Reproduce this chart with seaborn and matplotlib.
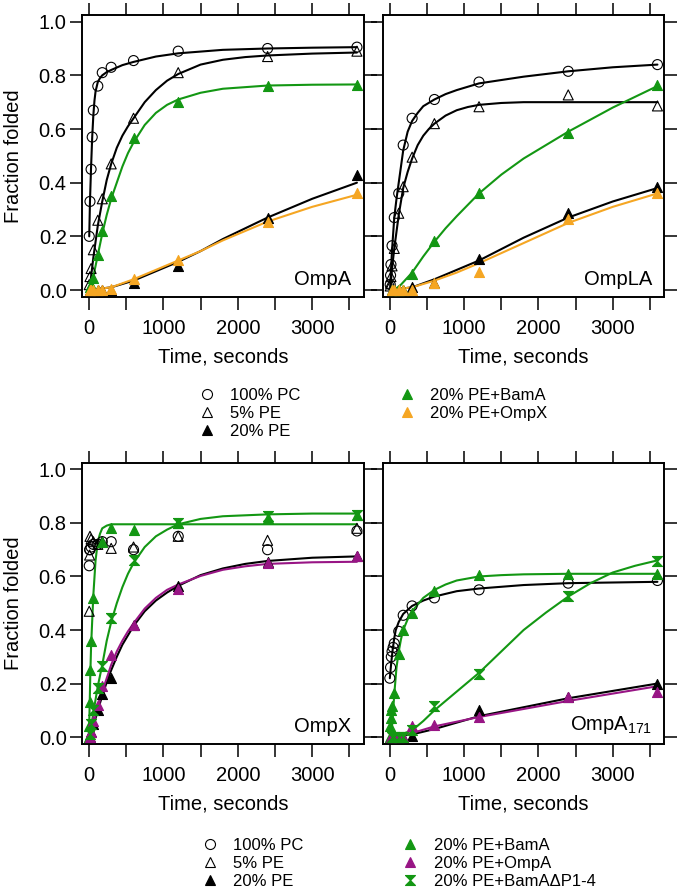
import matplotlib
matplotlib.use("Agg")
import matplotlib.pyplot as plt
from matplotlib.lines import Line2D
from matplotlib.ticker import MultipleLocator, FormatStrFormatter
import pandas as pd
import seaborn as sns

GREEN = "#139713"
ORANGE = "#f5a623"
PURPLE = "#981585"
HOURGLASS = [(-1, 1), (1, 1), (-1, -1), (1, -1), (-1, 1)]

PANELS = ["OmpA", "OmpLA", "OmpX", r"OmpA$_{\mathrm{171}}$"]

# ---- OmpA (top left) ----
OMPA_PC_T = [5, 15, 30, 45, 60, 120, 180, 300, 600, 1200, 2400, 3600]
OMPA_PC_Y = [0.20, 0.33, 0.45, 0.57, 0.67, 0.76, 0.81, 0.83, 0.855, 0.89, 0.90, 0.905]
OMPA_PC_FIT_T = [5, 15, 30, 45, 60, 75, 90, 120, 150, 180, 240, 300, 450, 600, 900, 1200, 1800, 2400, 3000, 3600]
OMPA_PC_FIT_Y = [0.20, 0.33, 0.46, 0.57, 0.65, 0.705, 0.74, 0.775, 0.79, 0.80, 0.812, 0.82, 0.838, 0.85, 0.87, 0.882, 0.895, 0.90, 0.903, 0.905]
OMPA_PE5_T = [5, 15, 30, 60, 120, 180, 300, 600, 1200, 2400, 3600]
OMPA_PE5_Y = [0.02, 0.05, 0.08, 0.15, 0.26, 0.34, 0.47, 0.64, 0.81, 0.87, 0.89]
OMPA_PE5_FIT_T = [10, 30, 60, 120, 180, 240, 300, 375, 450, 525, 600, 750, 900, 1050, 1200, 1500, 1800, 2100, 2400, 3000, 3600]
OMPA_PE5_FIT_Y = [0.0, 0.05, 0.12, 0.24, 0.33, 0.41, 0.47, 0.53, 0.575, 0.61, 0.64, 0.70, 0.745, 0.78, 0.805, 0.84, 0.858, 0.868, 0.874, 0.881, 0.885]
OMPA_PE20_T = [15, 30, 60, 120, 180, 300, 600, 1200, 2400, 3600]
OMPA_PE20_Y = [0.0, 0.0, 0.0, 0.0, 0.0, 0.0, 0.025, 0.09, 0.27, 0.43]
OMPA_PE20_FIT_T = [0, 300, 600, 900, 1200, 1500, 1800, 2100, 2400, 3000, 3600]
OMPA_PE20_FIT_Y = [0.0, 0.01, 0.035, 0.07, 0.105, 0.145, 0.19, 0.23, 0.27, 0.34, 0.40]
OMPA_BAMA_T = [15, 30, 60, 120, 180, 300, 600, 1200, 2400, 3600]
OMPA_BAMA_Y = [0.01, 0.02, 0.045, 0.13, 0.22, 0.35, 0.565, 0.70, 0.76, 0.765]
OMPA_BAMA_FIT_T = [20, 60, 120, 180, 240, 300, 375, 450, 525, 600, 750, 900, 1050, 1200, 1500, 1800, 2400, 3000, 3600]
OMPA_BAMA_FIT_Y = [0.0, 0.05, 0.13, 0.21, 0.28, 0.34, 0.40, 0.46, 0.51, 0.55, 0.615, 0.66, 0.69, 0.71, 0.735, 0.75, 0.762, 0.765, 0.766]
OMPA_OMPX_T = [15, 30, 60, 120, 180, 300, 600, 1200, 2400, 3600]
OMPA_OMPX_Y = [0.0, 0.0, 0.0, 0.0, 0.0, 0.005, 0.04, 0.11, 0.255, 0.36]
OMPA_OMPX_FIT_T = [0, 300, 600, 900, 1200, 1500, 1800, 2100, 2400, 3000, 3600]
OMPA_OMPX_FIT_Y = [0.0, 0.01, 0.04, 0.075, 0.11, 0.145, 0.185, 0.22, 0.255, 0.31, 0.355]

# ---- OmpLA (top right) ----
OMPLA_PC_T = [5, 10, 15, 30, 60, 120, 180, 300, 600, 1200, 2400, 3600]
OMPLA_PC_Y = [0.02, 0.055, 0.095, 0.165, 0.27, 0.36, 0.54, 0.64, 0.71, 0.775, 0.815, 0.84]
OMPLA_PC_FIT_T = [5, 15, 30, 60, 90, 120, 150, 180, 240, 300, 375, 450, 600, 750, 900, 1200, 1800, 2400, 3000, 3600]
OMPLA_PC_FIT_Y = [0.0, 0.07, 0.15, 0.27, 0.34, 0.40, 0.46, 0.52, 0.59, 0.63, 0.66, 0.685, 0.71, 0.73, 0.745, 0.77, 0.795, 0.815, 0.83, 0.84]
OMPLA_PE5_T = [5, 10, 15, 30, 60, 120, 180, 300, 600, 1200, 2400, 3600]
OMPLA_PE5_Y = [0.015, 0.025, 0.05, 0.09, 0.155, 0.286, 0.385, 0.495, 0.62, 0.683, 0.727, 0.686]
OMPLA_PE5_FIT_T = [5, 30, 60, 120, 180, 240, 300, 375, 450, 525, 600, 750, 900, 1050, 1200, 1500, 1800, 2400, 3600]
OMPLA_PE5_FIT_Y = [0.0, 0.08, 0.155, 0.28, 0.38, 0.44, 0.49, 0.54, 0.575, 0.60, 0.62, 0.65, 0.67, 0.682, 0.69, 0.697, 0.70, 0.70, 0.70]
OMPLA_PE20_T = [30, 60, 120, 180, 300, 600, 1200, 2400, 3600]
OMPLA_PE20_Y = [0.0, 0.0, 0.0, 0.0, 0.01, 0.025, 0.114, 0.286, 0.385]
OMPLA_PE20_FIT_T = [0, 300, 600, 900, 1200, 1800, 2400, 3000, 3600]
OMPLA_PE20_FIT_Y = [0.0, 0.01, 0.04, 0.075, 0.11, 0.195, 0.27, 0.33, 0.38]
OMPLA_BAMA_T = [30, 60, 120, 180, 300, 600, 1200, 2400, 3600]
OMPLA_BAMA_Y = [0.0, 0.0, 0.0, 0.0, 0.06, 0.184, 0.363, 0.584, 0.764]
OMPLA_BAMA_FIT_T = [60, 150, 300, 450, 600, 750, 900, 1200, 1500, 1800, 2100, 2400, 2700, 3000, 3300, 3600]
OMPLA_BAMA_FIT_Y = [0.0, 0.02, 0.065, 0.125, 0.18, 0.23, 0.275, 0.36, 0.43, 0.49, 0.54, 0.59, 0.635, 0.68, 0.72, 0.76]
OMPLA_OMPX_T = [30, 60, 120, 180, 300, 600, 1200, 2400, 3600]
OMPLA_OMPX_Y = [0.0, 0.0, 0.0, 0.0, 0.0, 0.027, 0.068, 0.263, 0.363]
OMPLA_OMPX_FIT_T = [0, 300, 600, 900, 1200, 1800, 2400, 3000, 3600]
OMPLA_OMPX_FIT_Y = [0.0, 0.01, 0.035, 0.065, 0.10, 0.175, 0.25, 0.31, 0.36]

# ---- OmpX (bottom left) ----
OMPX_PC_T = [5, 10, 15, 30, 60, 120, 180, 300, 600, 1200, 2400, 3600]
OMPX_PC_Y = [0.64, 0.70, 0.70, 0.71, 0.72, 0.72, 0.73, 0.73, 0.70, 0.75, 0.70, 0.77]
OMPX_PE5_T = [5, 10, 15, 30, 60, 120, 180, 300, 600, 1200, 2400, 3600]
OMPX_PE5_Y = [0.47, 0.68, 0.75, 0.74, 0.73, 0.72, 0.73, 0.705, 0.71, 0.75, 0.735, 0.78]
OMPX_PE20_T = [10, 30, 60, 120, 180, 300, 600, 1200, 2400, 3600]
OMPX_PE20_Y = [0.0, 0.02, 0.05, 0.10, 0.16, 0.22, 0.42, 0.565, 0.655, 0.675]
OMPX_PE20_FIT_T = [30, 60, 120, 180, 240, 300, 375, 450, 525, 600, 750, 900, 1050, 1200, 1500, 1800, 2100, 2400, 3000, 3600]
OMPX_PE20_FIT_Y = [0.0, 0.04, 0.10, 0.155, 0.205, 0.25, 0.30, 0.345, 0.38, 0.415, 0.47, 0.51, 0.54, 0.565, 0.605, 0.63, 0.647, 0.658, 0.67, 0.675]
OMPX_BAMA_T = [0, 5, 10, 20, 30, 60, 180, 300, 600, 1200, 2400, 3600]
OMPX_BAMA_Y = [0.0, 0.04, 0.13, 0.25, 0.36, 0.52, 0.73, 0.78, 0.775, 0.80, 0.82, 0.83]
OMPX_BAMA_FIT_T = [0, 5, 10, 20, 30, 60, 90, 120, 150, 180, 240, 300, 3600]
OMPX_BAMA_FIT_Y = [0.0, 0.05, 0.11, 0.24, 0.34, 0.53, 0.66, 0.73, 0.76, 0.78, 0.79, 0.795, 0.795]
OMPX_OMPA_T = [10, 30, 60, 120, 180, 300, 600, 1200, 2400, 3600]
OMPX_OMPA_Y = [0.0, 0.02, 0.06, 0.12, 0.19, 0.305, 0.42, 0.555, 0.65, 0.675]
OMPX_OMPA_FIT_T = [30, 60, 120, 180, 240, 300, 375, 450, 525, 600, 750, 900, 1050, 1200, 1500, 1800, 2100, 2400, 3000, 3600]
OMPX_OMPA_FIT_Y = [0.0, 0.05, 0.11, 0.17, 0.22, 0.27, 0.32, 0.36, 0.395, 0.425, 0.48, 0.52, 0.55, 0.57, 0.602, 0.625, 0.638, 0.647, 0.653, 0.655]
OMPX_DP_T = [10, 30, 60, 120, 180, 300, 600, 1200, 2400, 3600]
OMPX_DP_Y = [0.01, 0.05, 0.10, 0.185, 0.265, 0.445, 0.66, 0.80, 0.825, 0.83]
OMPX_DP_FIT_T = [10, 60, 120, 180, 240, 300, 375, 450, 525, 600, 750, 900, 1050, 1200, 1500, 1800, 2400, 3000, 3600]
OMPX_DP_FIT_Y = [0.0, 0.09, 0.19, 0.27, 0.36, 0.43, 0.50, 0.56, 0.61, 0.65, 0.71, 0.75, 0.775, 0.795, 0.815, 0.825, 0.832, 0.835, 0.835]

# ---- OmpA171 (bottom right) ----
OMPA171_PC_T = [0, 10, 20, 30, 45, 60, 120, 180, 300, 600, 1200, 2400, 3600]
OMPA171_PC_Y = [0.22, 0.26, 0.30, 0.32, 0.335, 0.35, 0.395, 0.455, 0.49, 0.52, 0.55, 0.575, 0.585]
OMPA171_PC_FIT_T = [0, 20, 40, 60, 80, 120, 180, 300, 450, 600, 900, 1200, 1800, 2400, 3600]
OMPA171_PC_FIT_Y = [0.22, 0.28, 0.33, 0.37, 0.40, 0.43, 0.46, 0.49, 0.51, 0.525, 0.545, 0.555, 0.568, 0.575, 0.58]
OMPA171_PE20_T = [10, 30, 60, 120, 180, 300, 1200, 2400, 3600]
OMPA171_PE20_Y = [0.0, 0.0, 0.0, 0.0, 0.0, 0.005, 0.10, 0.15, 0.20]
OMPA171_PE20_FIT_T = [0, 300, 600, 1200, 2400, 3600]
OMPA171_PE20_FIT_Y = [0.0, 0.01, 0.03, 0.078, 0.145, 0.20]
OMPA171_BAMA_T = [0, 5, 10, 20, 30, 60, 120, 180, 300, 600, 1200, 2400, 3600]
OMPA171_BAMA_Y = [0.0, 0.04, 0.07, 0.10, 0.115, 0.165, 0.31, 0.40, 0.465, 0.545, 0.605, 0.61, 0.61]
OMPA171_BAMA_FIT_T = [20, 40, 60, 90, 120, 150, 180, 240, 300, 450, 600, 750, 900, 1200, 1500, 1800, 2400, 3600]
OMPA171_BAMA_FIT_Y = [0.0, 0.08, 0.16, 0.26, 0.32, 0.365, 0.40, 0.44, 0.47, 0.52, 0.55, 0.57, 0.585, 0.60, 0.605, 0.608, 0.61, 0.61]
OMPA171_OMPA_T = [10, 30, 60, 120, 180, 300, 600, 1200, 2400, 3600]
OMPA171_OMPA_Y = [0.0, 0.0, 0.0, 0.0, 0.0, 0.04, 0.045, 0.075, 0.15, 0.17]
OMPA171_OMPA_FIT_T = [0, 300, 600, 1200, 2400, 3600]
OMPA171_OMPA_FIT_Y = [0.0, 0.015, 0.04, 0.075, 0.135, 0.19]
OMPA171_DP_T = [30, 60, 120, 180, 300, 600, 1200, 2400, 3600]
OMPA171_DP_Y = [0.0, 0.0, 0.0, 0.0, 0.025, 0.115, 0.234, 0.5275, 0.656]
OMPA171_DP_FIT_T = [50, 300, 450, 600, 900, 1200, 1500, 1800, 2100, 2400, 2700, 3000, 3300, 3600]
OMPA171_DP_FIT_Y = [0.0, 0.025, 0.06, 0.10, 0.17, 0.24, 0.32, 0.40, 0.465, 0.525, 0.575, 0.615, 0.64, 0.66]

PC, PE5, PE20 = "100% PC", "5% PE", "20% PE"
BAMA, OMPX, OMPA, DP = "20% PE+BamA", "20% PE+OmpX", "20% PE+OmpA", "20% PE+BamA\u0394P1-4"

# condition -> (marker, face, edge, line colour)
STYLES = {
    PC: ("o", "none", "black", "black"),
    PE5: ("^", "none", "black", "black"),
    PE20: ("^", "black", "black", "black"),
    BAMA: ("^", GREEN, GREEN, GREEN),
    OMPX: ("^", ORANGE, ORANGE, ORANGE),
    OMPA: ("^", PURPLE, PURPLE, PURPLE),
    DP: (HOURGLASS, GREEN, GREEN, GREEN),
}

SERIES = [
    (0, PC, OMPA_PC_T, OMPA_PC_Y, OMPA_PC_FIT_T, OMPA_PC_FIT_Y),
    (0, PE5, OMPA_PE5_T, OMPA_PE5_Y, OMPA_PE5_FIT_T, OMPA_PE5_FIT_Y),
    (0, PE20, OMPA_PE20_T, OMPA_PE20_Y, OMPA_PE20_FIT_T, OMPA_PE20_FIT_Y),
    (0, BAMA, OMPA_BAMA_T, OMPA_BAMA_Y, OMPA_BAMA_FIT_T, OMPA_BAMA_FIT_Y),
    (0, OMPX, OMPA_OMPX_T, OMPA_OMPX_Y, OMPA_OMPX_FIT_T, OMPA_OMPX_FIT_Y),
    (1, PC, OMPLA_PC_T, OMPLA_PC_Y, OMPLA_PC_FIT_T, OMPLA_PC_FIT_Y),
    (1, PE5, OMPLA_PE5_T, OMPLA_PE5_Y, OMPLA_PE5_FIT_T, OMPLA_PE5_FIT_Y),
    (1, PE20, OMPLA_PE20_T, OMPLA_PE20_Y, OMPLA_PE20_FIT_T, OMPLA_PE20_FIT_Y),
    (1, BAMA, OMPLA_BAMA_T, OMPLA_BAMA_Y, OMPLA_BAMA_FIT_T, OMPLA_BAMA_FIT_Y),
    (1, OMPX, OMPLA_OMPX_T, OMPLA_OMPX_Y, OMPLA_OMPX_FIT_T, OMPLA_OMPX_FIT_Y),
    (2, PC, OMPX_PC_T, OMPX_PC_Y, None, None),
    (2, PE5, OMPX_PE5_T, OMPX_PE5_Y, None, None),
    (2, PE20, OMPX_PE20_T, OMPX_PE20_Y, OMPX_PE20_FIT_T, OMPX_PE20_FIT_Y),
    (2, BAMA, OMPX_BAMA_T, OMPX_BAMA_Y, OMPX_BAMA_FIT_T, OMPX_BAMA_FIT_Y),
    (2, OMPA, OMPX_OMPA_T, OMPX_OMPA_Y, OMPX_OMPA_FIT_T, OMPX_OMPA_FIT_Y),
    (2, DP, OMPX_DP_T, OMPX_DP_Y, OMPX_DP_FIT_T, OMPX_DP_FIT_Y),
    (3, PC, OMPA171_PC_T, OMPA171_PC_Y, OMPA171_PC_FIT_T, OMPA171_PC_FIT_Y),
    (3, PE20, OMPA171_PE20_T, OMPA171_PE20_Y, OMPA171_PE20_FIT_T, OMPA171_PE20_FIT_Y),
    (3, BAMA, OMPA171_BAMA_T, OMPA171_BAMA_Y, OMPA171_BAMA_FIT_T, OMPA171_BAMA_FIT_Y),
    (3, OMPA, OMPA171_OMPA_T, OMPA171_OMPA_Y, OMPA171_OMPA_FIT_T, OMPA171_OMPA_FIT_Y),
    (3, DP, OMPA171_DP_T, OMPA171_DP_Y, OMPA171_DP_FIT_T, OMPA171_DP_FIT_Y),
]

TOP_LEGEND = [PC, PE5, PE20, BAMA, OMPX]
BOTTOM_LEGEND = [PC, PE5, PE20, BAMA, OMPA, DP]


def build_frames():
    points, fits = [], []
    for panel, cond, t, y, ft, fy in SERIES:
        points.append(pd.DataFrame({"panel": panel, "cond": cond, "time": t, "frac": y}))
        if ft is not None:
            fits.append(pd.DataFrame({"panel": panel, "cond": cond, "time": ft, "frac": fy}))
    return pd.concat(points, ignore_index=True), pd.concat(fits, ignore_index=True)


def style_axis(ax, left_col):
    ax.set_xlim(-92, 3695)
    ax.set_ylim(-0.026, 1.025)
    ax.xaxis.set_major_locator(MultipleLocator(1000))
    ax.xaxis.set_minor_locator(MultipleLocator(500))
    ax.yaxis.set_major_locator(MultipleLocator(0.2))
    ax.yaxis.set_major_formatter(FormatStrFormatter("%.1f"))
    ax.tick_params(which="both", direction="out", length=9, width=1.1,
                   top=True, right=True, labelsize=14.5, color="black", labelcolor="black")
    ax.tick_params(axis="x", pad=7)
    ax.tick_params(axis="y", pad=2, labelleft=left_col)
    for spine in ax.spines.values():
        spine.set_visible(True)
        spine.set_linewidth(1.4)
        spine.set_color("black")
    ax.set_xlabel("Time, seconds", fontsize=14.5, labelpad=7)
    if left_col:
        ax.set_ylabel("Fraction folded", fontsize=14.5, labelpad=11)
    else:
        ax.set_ylabel("")


def legend_handles(conds):
    handles = []
    for cond in conds:
        marker, face, edge, _ = STYLES[cond]
        handles.append(Line2D([], [], linestyle="none", marker=marker, markersize=7.2,
                              markerfacecolor=face, markeredgecolor=edge,
                              markeredgewidth=0.8, label=cond))
    return handles


def main():
    sns.set_theme(style="ticks")
    plt.rcParams["font.family"] = ["Liberation Sans", "DejaVu Sans"]
    plt.rcParams["mathtext.fontset"] = "custom"
    plt.rcParams["mathtext.rm"] = "Liberation Sans"
    plt.rcParams["mathtext.it"] = "Liberation Sans:italic"
    for key in ["text.color", "axes.labelcolor", "xtick.color", "ytick.color", "axes.edgecolor"]:
        plt.rcParams[key] = "black"

    points, fits = build_frames()

    fig = plt.figure(figsize=(6.8, 8.9), dpi=100)
    positions = [
        (0.1206, 0.6663, 0.4147, 0.3169),
        (0.5632, 0.6663, 0.4140, 0.3169),
        (0.1206, 0.1640, 0.4147, 0.3161),
        (0.5632, 0.1640, 0.4140, 0.3161),
    ]
    axes = [fig.add_axes(p) for p in positions]

    for i, ax in enumerate(axes):
        for cond, grp in fits[fits["panel"] == i].groupby("cond", sort=False):
            sns.lineplot(data=grp, x="time", y="frac", ax=ax, color=STYLES[cond][3],
                         linewidth=1.5, estimator=None, sort=False, legend=False, zorder=2)
        for cond, grp in points[points["panel"] == i].groupby("cond", sort=False):
            marker, face, edge, _ = STYLES[cond]
            sns.scatterplot(data=grp, x="time", y="frac", ax=ax, marker=marker, s=52,
                            color=edge, facecolor=face, edgecolor=edge, linewidth=0.8,
                            legend=False, zorder=3)
        style_axis(ax, left_col=(i % 2 == 0))
        ax.text(0.955, 0.03, PANELS[i], transform=ax.transAxes, ha="right", va="bottom",
                fontsize=14.5)

    common = dict(loc="upper left", ncol=2, frameon=False, fontsize=12, handlelength=1.0,
                  handletextpad=0.9, columnspacing=5.9, labelspacing=0.18,
                  borderpad=0, borderaxespad=0)
    fig.legend(handles=legend_handles(TOP_LEGEND), bbox_to_anchor=(0.2918, 0.5644), **common)
    fig.legend(handles=legend_handles(BOTTOM_LEGEND), bbox_to_anchor=(0.2966, 0.0584), **common)

    fig.savefig("out.png", dpi=100)
    plt.close(fig)


if __name__ == "__main__":
    main()
